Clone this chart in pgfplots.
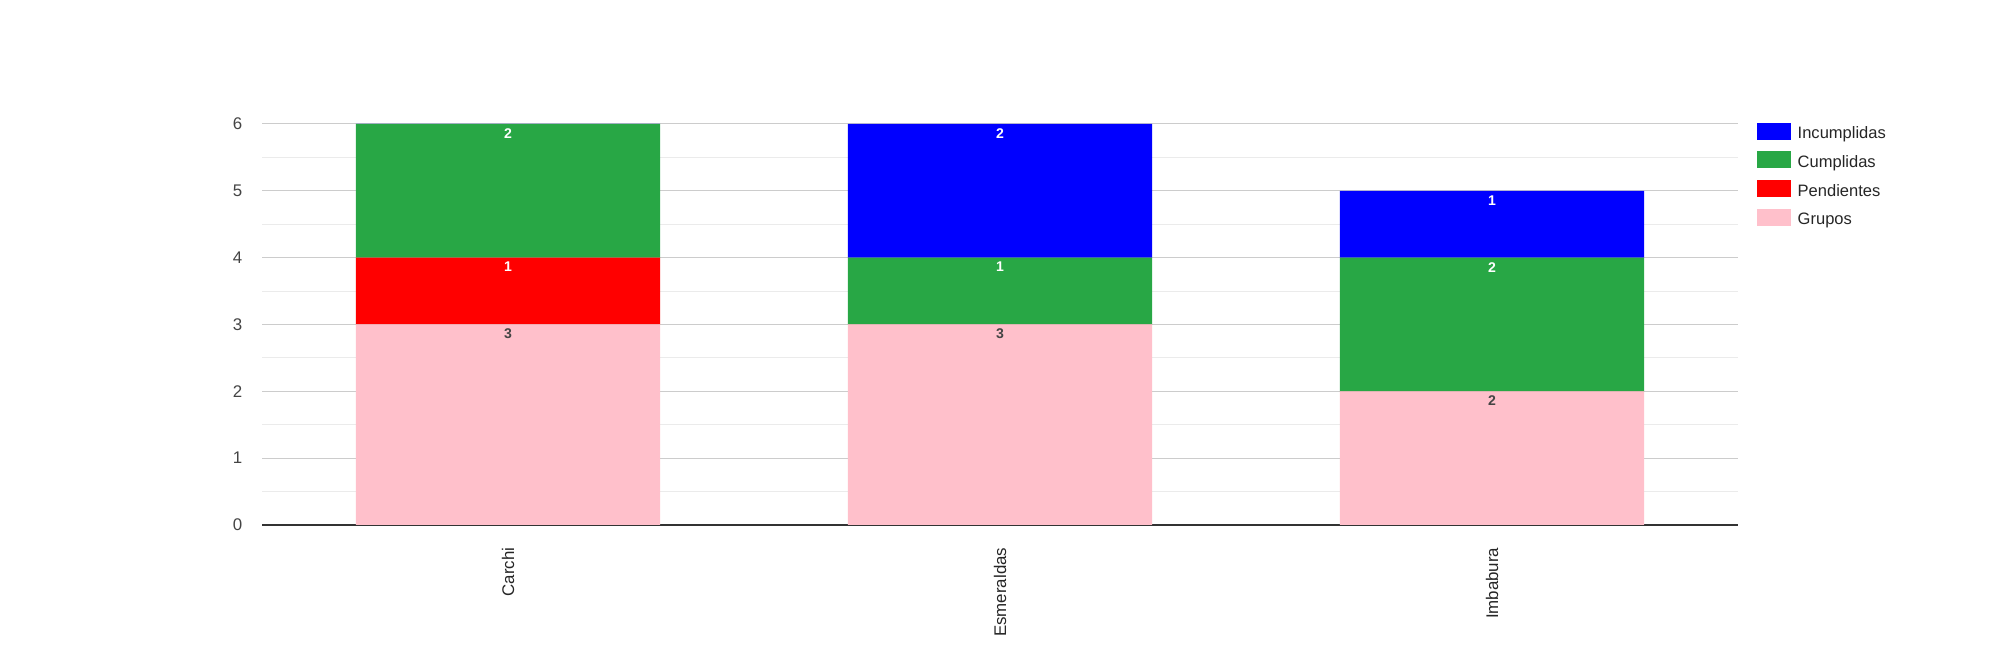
\documentclass[border=0pt]{standalone}
\usepackage{fontspec}
\setmainfont{Liberation Sans}
\usepackage{pgfplots}
\pgfplotsset{compat=1.18}
\pgfplotsset{compat/bar nodes=1.8}
\definecolor{cInc}{HTML}{0000FF}
\definecolor{cCum}{HTML}{28A745}
\definecolor{cPen}{HTML}{FF0000}
\definecolor{cGru}{HTML}{FFC0CB}
\definecolor{cTxt}{HTML}{444444}
\begin{document}
\begin{tikzpicture}
\path[use as bounding box] (0,0) rectangle (200mm,65mm);
\begin{axis}[
  at={(26.2mm,12.5mm)}, anchor=south west,
  scale only axis, width=147.6mm, height=40.1mm,
  ybar stacked, bar width=0.618,
  xmin=-0.5, xmax=2.5, ymin=0, ymax=6,
  xtick={0,1,2}, xticklabels={Carchi,Esmeraldas,Imbabura},
  ytick={0,1,2,3,4,5,6}, minor y tick num=1,
  /pgf/number format/assume math mode=true,
  ymajorgrids, yminorgrids,
  major grid style={color=black!20, line width=0.1mm},
  minor grid style={color=black!8, line width=0.1mm},
  extra y ticks={0}, extra y tick labels={},
  extra y tick style={grid=major, major grid style={color=black!80, line width=0.13mm}},
  axis line style={draw=none},
  major tick length=0, minor tick length=0,
  tick label style={font=\fontsize{4.8}{5.8}\selectfont, text=cTxt},
  xticklabel style={rotate=90, anchor=east, inner xsep=2.2mm, text=black!85},
  yticklabel style={anchor=east, inner xsep=1.9mm},
  point meta=rawy,
  nodes near coords={\pgfmathfloatifflags{\pgfplotspointmeta}{0}{}{\pgfmathprintnumber[assume math mode=true]{\pgfplotspointmeta}}},
  every node near coord/.append style={font=\bfseries\fontsize{4}{5}\selectfont, anchor=center, yshift=-0.95mm},
  legend style={at={(1,1)}, anchor=north west, xshift=1.8mm, yshift=0.2mm, draw=none, fill=none, inner sep=0pt,
    font=\fontsize{4.7}{5.6}\selectfont, text=black!85, row sep=0.92mm, column sep=0.7mm,
    nodes={inner sep=0pt, text height=1.25mm, text depth=0.35mm}},
  legend cell align=left, reverse legend,
  legend image code/.code={\fill[#1] (0mm,-0.55mm) rectangle (3.4mm,1.15mm);},
]
\addplot[fill=cGru, draw=none, every node near coord/.append style={text=cTxt}] coordinates {(0,3) (1,3) (2,2)};
\addlegendentry{Grupos}
\addplot[fill=cPen, draw=none, every node near coord/.append style={text=white}] coordinates {(0,1) (1,0) (2,0)};
\addlegendentry{Pendientes}
\addplot[fill=cCum, draw=none, every node near coord/.append style={text=white}] coordinates {(0,2) (1,1) (2,2)};
\addlegendentry{Cumplidas}
\addplot[fill=cInc, draw=none, every node near coord/.append style={text=white}] coordinates {(0,0) (1,2) (2,1)};
\addlegendentry{Incumplidas}
\end{axis}
\end{tikzpicture}
\end{document}
